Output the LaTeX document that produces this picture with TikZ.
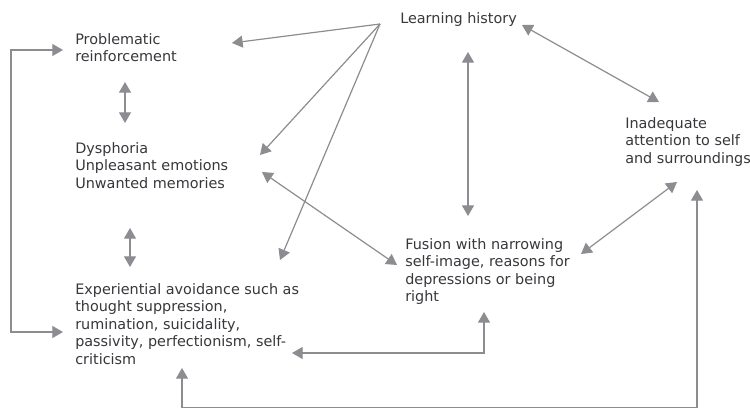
\documentclass[tikz,border=0pt]{standalone}
\usepackage{fontspec}
\setmainfont{DejaVu Sans}
\usepackage{tikz}
\usetikzlibrary{arrows.meta}
\definecolor{linegray}{RGB}{140,140,145}
\definecolor{textgray}{RGB}{55,55,60}

\begin{document}
\begin{tikzpicture}[
  x=0.75pt, y=-0.75pt,
  label/.style={anchor=north west, align=left, inner sep=0pt,
                font=\fontsize{10.8}{13.1}\selectfont, text=textgray},
  arr/.style={-{Triangle[length=8pt,width=9pt]}, draw=linegray,
              line width=0.9pt},
  both/.style={{Triangle[length=8pt,width=9pt]}-{Triangle[length=8pt,width=9pt]},
               draw=linegray, line width=0.9pt}]
  \useasboundingbox (0,0) rectangle (750,409);
  \node[label] (hist) at (400,12) {Learning history};
  \node[label] (reinf) at (75,33) {Problematic\\reinforcement};
  \node[label] (dysph) at (75,142) {Dysphoria\\Unpleasant emotions\\Unwanted memories};
  \node[label] (avoid) at (75,283) {Experiential avoidance such as\\thought suppression,\\rumination, suicidality,\\passivity, perfectionism, self-\\criticism};
  \node[label] (fusion) at (405,238) {Fusion with narrowing\\self-image, reasons for\\depressions or being\\right};
  \node[label] (attn) at (625,117) {Inadequate\\attention to self\\and surroundings};
  \coordinate (hub) at ([shift={(-20,12)}]hist.north west);
  % learning history fans out to the left
  \draw[arr] (hub) -- ([shift={(157,10)}]reinf.north west);
  \draw[arr] (hub) -- ([shift={(185,13)}]dysph.north west);
  \draw[arr] (hub) -- ([shift={(205,-23)}]avoid.north west);
  % left column
  \draw[both] ([shift={(50,49)}]reinf.north west) -- ([shift={(50,-19)}]dysph.north west);
  \draw[both] ([shift={(55,86)}]dysph.north west) -- ([shift={(55,-16)}]avoid.north west);
  \draw[both] ([shift={(-12,17)}]reinf.north west) -- ++(-52,0) |- ([shift={(-12,49)}]avoid.north west);
  % fusion and attention
  \draw[both] ([shift={(187,30)}]dysph.north west) -- ([shift={(-8,27)}]fusion.north west);
  \draw[both] ([shift={(68,40)}]hist.north west) -- ([shift={(63,-22)}]fusion.north west);
  \draw[both] ([shift={(122,13)}]hist.north west) -- ([shift={(34,-15)}]attn.north west);
  \draw[both] ([shift={(52,65)}]attn.north west) -- ([shift={(176,16)}]fusion.north west);
  \draw[both] ([shift={(79,74)}]fusion.north west) |- ([shift={(217,70)}]avoid.north west);
  \draw[both] ([shift={(72,73)}]attn.north west) -- ++(0,217.5) -| ([shift={(107,85)}]avoid.north west);
\end{tikzpicture}
\end{document}
